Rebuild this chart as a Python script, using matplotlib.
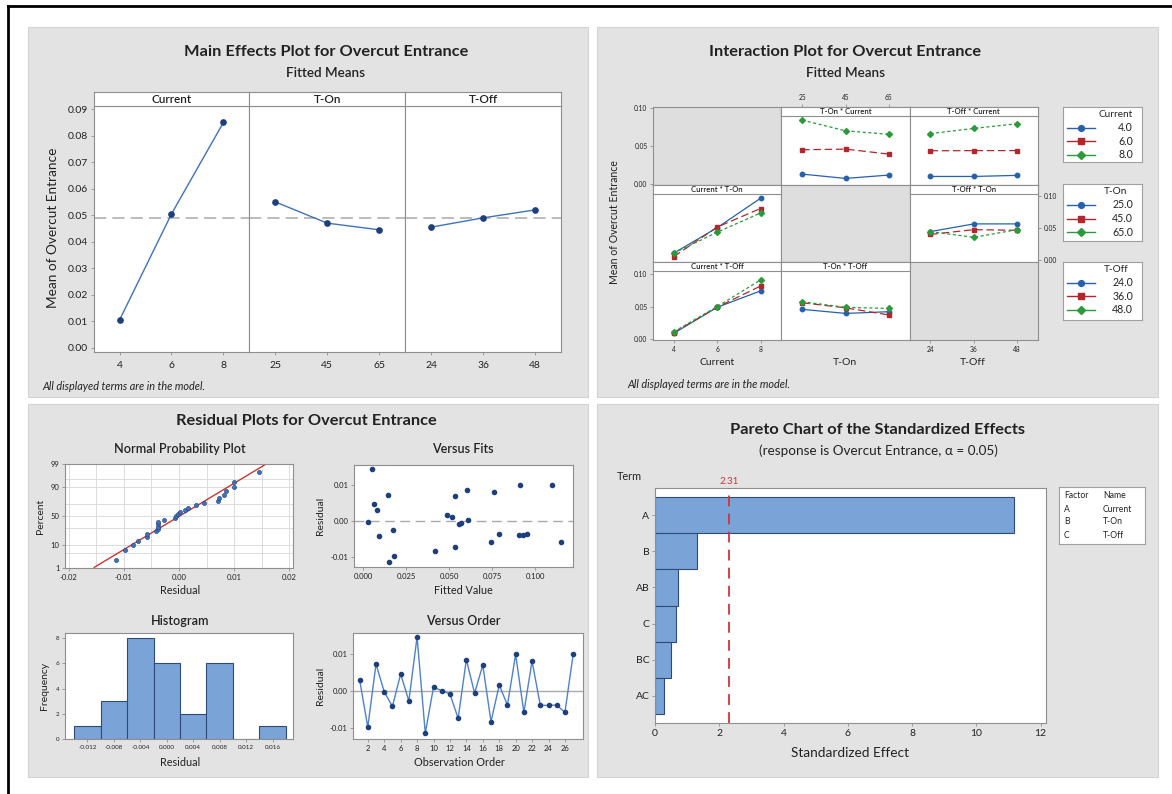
import numpy as np
import matplotlib
matplotlib.use("Agg")
import matplotlib.pyplot as plt
from matplotlib.patches import Rectangle
from matplotlib.lines import Line2D
from statistics import NormalDist

plt.rcParams["font.family"] = ["Lato", "DejaVu Sans"]
plt.rcParams["axes.unicode_minus"] = False

W, H = 1172, 794

# ---------------- data ----------------
current_levels = [4, 6, 8]
ton_levels = [25, 45, 65]
toff_levels = [24, 36, 48]

# main effects (fitted means)
me_current = [0.0105, 0.0505, 0.0850]
me_ton = [0.0550, 0.0470, 0.0445]
me_toff = [0.0455, 0.0490, 0.0520]
grand_mean = 0.0490

# interaction fitted means: one row per level of the trace factor
ton_x_by_current = [[0.0127, 0.0070, 0.0114], [0.0447, 0.0456, 0.0390], [0.0838, 0.0697, 0.0650]]
toff_x_by_current = [[0.0096, 0.0096, 0.0110], [0.0434, 0.0436, 0.0436], [0.0660, 0.0728, 0.0790]]
current_x_by_ton = [[0.0114, 0.0510, 0.0970], [0.0060, 0.0520, 0.0810], [0.0114, 0.0440, 0.0740]]
toff_x_by_ton = [[0.0450, 0.0570, 0.0570], [0.0406, 0.0480, 0.0470], [0.0450, 0.0360, 0.0480]]
current_x_by_toff = [[0.0088, 0.0488, 0.0740], [0.0100, 0.0490, 0.0815], [0.0112, 0.0500, 0.0908]]
ton_x_by_toff = [[0.0457, 0.0394, 0.0420], [0.0558, 0.0480, 0.0370], [0.0574, 0.0488, 0.0470]]

# residuals in observation order, and fitted values
residuals = [0.0031, -0.0098, 0.0073, -0.0002, -0.0042, 0.0046, -0.0027, 0.0146, -0.0114,
             0.0010, 0.0001, -0.0008, -0.0074, 0.0085, -0.0006, 0.0070, -0.0083, 0.0016,
             -0.0038, 0.0099, -0.0058, 0.0081, -0.0039, -0.0039, -0.0038, -0.0058, 0.0099]
fitted = [0.0078, 0.0178, 0.0141, 0.0025, 0.0093, 0.0062, 0.0174, 0.0052, 0.0149,
          0.0514, 0.0610, 0.0558, 0.0535, 0.0601, 0.0566, 0.0535, 0.0417, 0.0488,
          0.0791, 0.0911, 0.0740, 0.0762, 0.0903, 0.0930, 0.0950, 0.1151, 0.1099]

# pareto
pareto_terms = ["A", "B", "AB", "C", "BC", "AC"]
pareto_effects = [11.16, 1.31, 0.73, 0.66, 0.49, 0.27]
pareto_crit = 2.31

# ---------------- style ----------------
PANEL = "#e3e3e3"
SPINE = "#8f8f8f"
TXT = "#222222"
LINE_BLUE = "#3f72bd"
MARK_BLUE = "#1d3f7c"
TRACE_COLORS = ["#2760ab", "#b3262b", "#2c9a3b"]
TRACE_MARKERS = ["o", "s", "D"]
TRACE_DASHES = [None, (6, 3), (2.5, 2)]
BAR_FACE = "#7aa4d8"
BAR_EDGE = "#2f4a78"
TITLE = 11.8
SUB = 9.7


def box(x0, y0, x1, y1):
    return [x0 / W, 1 - y1 / H, (x1 - x0) / W, (y1 - y0) / H]


def ftext(x, y, s, **kw):
    kw.setdefault("ha", "center")
    kw.setdefault("va", "center")
    kw.setdefault("color", TXT)
    fig.text(x / W, 1 - y / H, s, **kw)


def style_axes(ax, lab=6):
    for sp in ax.spines.values():
        sp.set_edgecolor(SPINE)
        sp.set_linewidth(0.8)
    ax.tick_params(colors=TXT, color=SPINE, length=2.5, width=0.6, pad=1.5, labelsize=lab)


def strip(x0, y0, x1, y1, label, size):
    s = fig.add_axes(box(x0, y0, x1, y1))
    s.set_facecolor("white")
    s.set_xticks([])
    s.set_yticks([])
    for sp in s.spines.values():
        sp.set_edgecolor(SPINE)
        sp.set_linewidth(0.8)
    s.text(0.5, 0.45, label, transform=s.transAxes, ha="center", va="center",
           fontsize=size, color=TXT, fontweight="semibold")
    return s


fig = plt.figure(figsize=(W / 100, H / 100), dpi=100)
fig.patch.set_facecolor("white")

# panel backgrounds
for (x0, y0, x1, y1) in [(28, 27, 588, 397), (597, 27, 1158, 397),
                         (28, 404, 588, 777), (597, 404, 1158, 777)]:
    fig.add_artist(Rectangle((x0 / W, 1 - y1 / H), (x1 - x0) / W, (y1 - y0) / H,
                             transform=fig.transFigure, facecolor=PANEL,
                             edgecolor="#d4d4d4", lw=0.8, zorder=0))
# black frame on the top and left
fig.add_artist(Line2D([7.5 / W, 1], [1 - 5.5 / H, 1 - 5.5 / H], color="black", lw=2,
                      transform=fig.transFigure))
fig.add_artist(Line2D([7.5 / W, 7.5 / W], [0, 1 - 5.5 / H], color="black", lw=2,
                      transform=fig.transFigure))

# ================= Main effects =================
ftext(326, 52, "Main Effects Plot for Overcut Entrance", fontsize=TITLE, fontweight="bold")
ftext(326, 73, "Fitted Means", fontsize=SUB, fontweight="semibold")
ftext(53, 228, "Mean of Overcut Entrance", fontsize=9.8, rotation=90)
ftext(42, 386, "All displayed terms are in the model.", fontsize=7.8, style="italic", ha="left")

me_edges = np.linspace(93.6, 561, 4)
me_sets = [("Current", current_levels, me_current),
           ("T-On", ton_levels, me_ton),
           ("T-Off", toff_levels, me_toff)]
for i, (name, lev, vals) in enumerate(me_sets):
    ax = fig.add_axes(box(me_edges[i], 106, me_edges[i + 1], 352))
    style_axes(ax, lab=7.5)
    span = lev[-1] - lev[0]
    ax.set_xlim(lev[0] - 0.25 * span, lev[-1] + 0.25 * span)
    ax.set_ylim(-0.0016, 0.0912)
    ax.axhline(grand_mean, color="#a9a9a9", lw=1.1, dashes=(8, 4), zorder=1)
    ax.plot(lev, vals, color=LINE_BLUE, lw=1.0, marker="o", ms=3.8,
            mfc=MARK_BLUE, mec=MARK_BLUE, zorder=3)
    ax.set_xticks(lev)
    ax.set_xticklabels([str(v) for v in lev])
    ax.tick_params(axis="x", pad=4)
    if i == 0:
        yt = np.arange(0, 0.0901, 0.01)
        ax.set_yticks(yt)
        ax.set_yticklabels([f"{v:.2f}" for v in yt])
    else:
        ax.set_yticks([])
    strip(me_edges[i], 92, me_edges[i + 1], 106, name, 8.5)

# ================= Interaction plot =================
ftext(845, 52, "Interaction Plot for Overcut Entrance", fontsize=TITLE, fontweight="bold")
ftext(845, 73, "Fitted Means", fontsize=SUB, fontweight="semibold")
ftext(615, 222, "Mean of Overcut Entrance", fontsize=7.6, rotation=90)
ftext(627, 385, "All displayed terms are in the model.", fontsize=7.8, style="italic", ha="left")

factors = ["Current", "T-On", "T-Off"]
levels = [current_levels, ton_levels, toff_levels]
# (x factor index, trace factor index) -> means
inter = {(1, 0): ton_x_by_current, (2, 0): toff_x_by_current,
         (0, 1): current_x_by_ton, (2, 1): toff_x_by_ton,
         (0, 2): current_x_by_toff, (1, 2): ton_x_by_toff}
col_edges = np.linspace(653, 1038, 4)
row_edges = [107, 184.5, 262, 340]
row_ylim = [(-0.001, 0.101), (-0.0025, 0.1185), (-0.0015, 0.1185)]

for r in range(3):
    for c in range(3):
        ax = fig.add_axes(box(col_edges[c], row_edges[r], col_edges[c + 1], row_edges[r + 1]))
        style_axes(ax, lab=4.8)
        lev = levels[c]
        span = lev[-1] - lev[0]
        ax.set_xlim(lev[0] - 0.24 * span, lev[-1] + 0.24 * span)
        ax.set_ylim(*row_ylim[r])
        ax.set_xticks([])
        ax.set_yticks([])
        if r == c:
            ax.set_facecolor("#dedede")
        else:
            data = inter[(c, r)]
            for k, ys in enumerate(data):
                ln, = ax.plot(lev, ys, color=TRACE_COLORS[k], lw=0.9,
                              marker=TRACE_MARKERS[k], ms=3.2 if k != 2 else 3.0)
                if TRACE_DASHES[k] is not None:
                    ln.set_dashes(TRACE_DASHES[k])
            strip(col_edges[c], row_edges[r], col_edges[c + 1], row_edges[r] + 9,
                  f"{factors[c]} * {factors[r]}", 5.6)
        yt = [0.0, 0.05, 0.10]
        ylabels = ["0.00", "0.05", "0.10"]
        if (r, c) in [(0, 0), (2, 0)]:
            ax.set_yticks(yt)
            ax.set_yticklabels(ylabels)
        if (r, c) == (1, 2):
            ax.yaxis.tick_right()
            ax.set_yticks(yt)
            ax.set_yticklabels(ylabels)
        if (r, c) in [(2, 0), (2, 2)]:
            ax.set_xticks(lev)
            ax.set_xticklabels([str(v) for v in lev])
        if (r, c) == (0, 1):
            ax.xaxis.tick_top()
            ax.set_xticks(lev)
            ax.set_xticklabels([str(v) for v in lev])

ftext(717, 362, "Current", fontsize=7.5)
ftext(845, 362, "T-On", fontsize=7.5)
ftext(973, 362, "T-Off", fontsize=7.5)

# legends
leg_boxes = [(107, 162), (184, 241), (262, 320)]
for f, (y0, y1) in enumerate(leg_boxes):
    x0, x1 = 1063, 1142
    lax = fig.add_axes(box(x0, y0, x1, y1))
    lax.set_xlim(x0, x1)
    lax.set_ylim(y1, y0)
    lax.set_xticks([])
    lax.set_yticks([])
    for sp in lax.spines.values():
        sp.set_edgecolor("#a0a0a0")
        sp.set_linewidth(0.8)
    lax.text(1116, y0 + 8, factors[f], ha="center", va="center", fontsize=7.2, color=TXT)
    for k, lv in enumerate(levels[f]):
        yy = y0 + 21 + k * 13.5
        ln, = lax.plot([1067, 1095], [yy, yy], color=TRACE_COLORS[k], lw=1.0)
        lax.plot([1081], [yy], marker=TRACE_MARKERS[k], color=TRACE_COLORS[k], ms=4.2)
        lax.text(1133, yy, f"{lv:.1f}", ha="right", va="center", fontsize=7.6, color=TXT)

# ================= Residual plots =================
ftext(306, 421, "Residual Plots for Overcut Entrance", fontsize=TITLE, fontweight="bold")

res = np.array(residuals)
fit = np.array(fitted)
n = len(res)

# normal probability plot
nd = NormalDist()
ax = fig.add_axes(box(65, 464, 293, 568))
style_axes(ax, lab=5.5)
ax.set_facecolor("white")
srt = np.sort(res)
z = np.array([nd.inv_cdf((i + 1 - 0.3) / (n + 0.4)) for i in range(n)])
zlim = 2.3
ax.set_xlim(-0.0207, 0.0207)
ax.set_ylim(-zlim, zlim)
for gx in np.arange(-0.02, 0.0201, 0.005):
    ax.axvline(gx, color="#dcdcdc", lw=0.7, zorder=0)
for gp in [1, 5, 10, 30, 50, 70, 90, 95, 99]:
    ax.axhline(nd.inv_cdf(gp / 100), color="#dcdcdc", lw=0.7, zorder=0)
mu, sd = res.mean(), res.std(ddof=1)
zz = np.array([-zlim, zlim])
ax.plot(mu + sd * zz, zz, color="#c8372d", lw=1.0, zorder=2)
ax.scatter(srt, z, s=9, color=LINE_BLUE, edgecolor=MARK_BLUE, lw=0.4, zorder=3)
pt = [1, 10, 50, 90, 99]
ax.set_yticks([nd.inv_cdf(p / 100) for p in pt])
ax.set_yticklabels([str(p) for p in pt])
xt = np.arange(-0.02, 0.0201, 0.01)
ax.set_xticks(xt)
ax.set_xticklabels([f"{v:.2f}" for v in xt])
ftext(180, 449, "Normal Probability Plot", fontsize=9, fontweight="semibold")
ftext(180, 590, "Residual", fontsize=7.8)
ftext(40, 516, "Percent", fontsize=7.5, rotation=90)

# versus fits
ax = fig.add_axes(box(354, 465, 573, 567))
style_axes(ax, lab=5.5)
ax.set_xlim(-0.0054, 0.1219)
ax.set_ylim(-0.0129, 0.0156)
ax.axhline(0, color="#a9a9a9", lw=1.0, dashes=(7, 4), zorder=1)
ax.scatter(fit, res, s=9, color=MARK_BLUE, zorder=3)
xt = np.arange(0, 0.1001, 0.025)
ax.set_xticks(xt)
ax.set_xticklabels([f"{v:.3f}" for v in xt])
ax.set_yticks([-0.01, 0.0, 0.01])
ax.set_yticklabels(["-0.01", "0.00", "0.01"])
ftext(463, 449, "Versus Fits", fontsize=9, fontweight="semibold")
ftext(463, 590, "Fitted Value", fontsize=7.8)
ftext(320, 516, "Residual", fontsize=7.5, rotation=90)

# histogram
ax = fig.add_axes(box(65, 633, 293, 739))
style_axes(ax, lab=4.5)
bins = np.arange(-0.014, 0.0181, 0.004)
ax.hist(res, bins=bins, color=BAR_FACE, edgecolor=BAR_EDGE, lw=0.8)
ax.set_xlim(-0.0154, 0.0191)
ax.set_ylim(0, 8.4)
xt = np.arange(-0.012, 0.0161, 0.004)
ax.set_xticks(xt)
ax.set_xticklabels([f"{v:.3f}" for v in xt])
ax.set_yticks([0, 2, 4, 6, 8])
ftext(180, 621, "Histogram", fontsize=9, fontweight="semibold")
ftext(180, 762, "Residual", fontsize=7.8)
ftext(45, 686, "Frequency", fontsize=7.5, rotation=90)

# versus order
ax = fig.add_axes(box(353, 633, 583, 739))
style_axes(ax, lab=5.5)
order = np.arange(1, n + 1)
ax.set_xlim(0.2, 28.2)
ax.set_ylim(-0.0130, 0.0157)
ax.axhline(0, color="#a9a9a9", lw=1.0, zorder=1)
ax.plot(order, res, color="#4d82cc", lw=1.0, marker="o", ms=3,
        mfc=MARK_BLUE, mec=MARK_BLUE, zorder=3)
ax.set_xticks(np.arange(2, 27, 2))
ax.set_yticks([-0.01, 0.0, 0.01])
ax.set_yticklabels(["-0.01", "0.00", "0.01"])
ftext(463, 621, "Versus Order", fontsize=9, fontweight="semibold")
ftext(459, 763, "Observation Order", fontsize=7.8)
ftext(320, 686, "Residual", fontsize=7.5, rotation=90)

# ================= Pareto =================
ftext(878, 430, "Pareto Chart of the Standardized Effects", fontsize=TITLE, fontweight="bold")
ftext(878, 451, "(response is Overcut Entrance, \u03b1 = 0.05)", fontsize=SUB)
ax = fig.add_axes(box(655, 488, 1046, 723))
style_axes(ax, lab=7.5)
ypos = np.arange(len(pareto_terms))
ax.barh(ypos, pareto_effects, height=1.0, color=BAR_FACE, edgecolor=BAR_EDGE, lw=0.8)
ax.set_ylim(len(pareto_terms) - 0.25, -0.75)
ax.set_xlim(0, 12.17)
ax.axvline(pareto_crit, color="#d2333a", lw=1.3, dashes=(6, 4), zorder=3)
ax.text(pareto_crit, 1.01, f"{pareto_crit:.2f}", transform=ax.get_xaxis_transform(),
        ha="center", va="bottom", fontsize=7, color="#d2333a")
ax.set_yticks(ypos)
ax.set_yticklabels(pareto_terms)
ax.set_xticks(np.arange(0, 13, 2))
ftext(629, 476, "Term", fontsize=7.8)
ftext(850, 753, "Standardized Effect", fontsize=9.8)

lax = fig.add_axes(box(1059, 487, 1145, 544))
lax.set_xticks([])
lax.set_yticks([])
for sp in lax.spines.values():
    sp.set_edgecolor("#a0a0a0")
    sp.set_linewidth(0.8)
leg_rows = [("Factor", "Name"), ("A", "Current"), ("B", "T-On"), ("C", "T-Off")]
for k, (a, b) in enumerate(leg_rows):
    yy = 496 + k * 13
    ftext(1064, yy, a, fontsize=6.2, ha="left")
    ftext(1103, yy, b, fontsize=6.2, ha="left")

fig.savefig("out.png", dpi=100, facecolor="white")
